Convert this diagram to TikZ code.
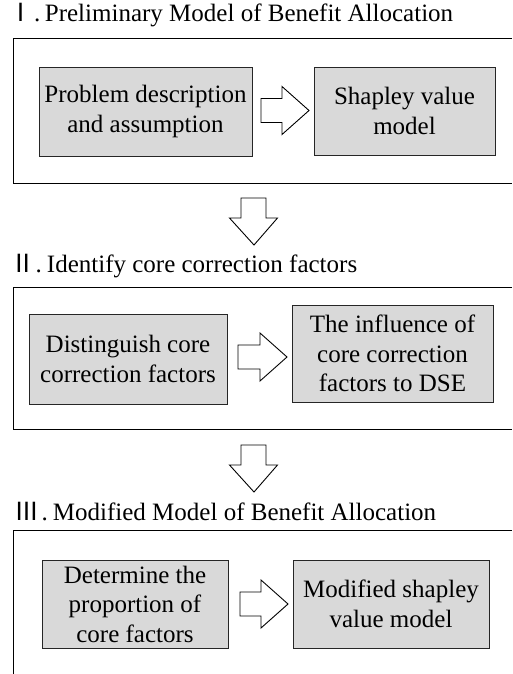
\documentclass[tikz,border=0pt]{standalone}
\usepackage{fontspec}
\setmainfont{Liberation Serif}
\newfontfamily\cjk{Noto Sans CJK SC}
\usetikzlibrary{calc}
\definecolor{boxgray}{HTML}{D9D9D9}
\tikzset{
  inner/.style={draw=black!85, fill=boxgray, line width=0.9pt, align=center, inner sep=0pt, font=\fontsize{25}{29.5}\selectfont},
  outer/.style={draw=black, line width=1pt},
  title/.style={anchor=base west, inner sep=0pt, font=\fontsize{25}{29}\selectfont},
  blk/.style={draw=black, fill=white, line width=0.9pt, line join=miter}
}
\newcommand{\numr}[2]{\makebox[#1][c]{\cjk\fontsize{25}{29}\selectfont #2}}
\newcommand{\rarr}[2]{\draw[blk] let \p1=(#1), \p2=(#2) in
  (\x1,\y1+12pt) -- (\x2-27pt,\y1+12pt) -- (\x2-27pt,\y1+24pt) -- (\x2,\y1)
  -- (\x2-27pt,\y1-24pt) -- (\x2-27pt,\y1-12pt) -- (\x1,\y1-12pt) -- cycle;}
\newcommand{\darr}[2]{\draw[blk] let \p1=(#1), \p2=(#2) in
  (\x1-12.5pt,\y1) -- (\x1+12.5pt,\y1) -- (\x1+12.5pt,\y2+27pt) -- (\x1+24pt,\y2+27pt)
  -- (\x2,\y2) -- (\x1-24pt,\y2+27pt) -- (\x1-12.5pt,\y2+27pt) -- cycle;}
\begin{document}
\begin{tikzpicture}[x=1pt,y=-1pt]
\useasboundingbox (0,0) rectangle (512,674);
\fill[white] (0,0) rectangle (512,674);

% titles
\node[title] (t1) at (8,22) {\numr{26pt}{Ⅰ}.\hspace{4.5pt}Preliminary Model of Benefit Allocation};
\node[title] (t2) at (10.5,272) {\numr{25pt}{Ⅱ}.\hspace{5pt}Identify core correction factors};
\node[title] (t3) at (13,520) {\numr{28.5pt}{Ⅲ}.\hspace{5pt}Modified Model of Benefit Allocation};

% outer frames
\draw[outer] (512,39) -- (13.5,39) -- (13.5,183) -- (512,183);
\draw[outer] (512,287) -- (13.5,287) -- (13.5,429) -- (512,429);
\draw[outer] (512,530) -- (13.5,530) -- (13.5,674);

% section I
\node[inner, minimum width=213pt, minimum height=89pt] (p1a) at (145.5,111.5) {Problem description\\and assumption};
\node[inner, minimum width=181pt, minimum height=88pt] (p1b) at (404.5,111) {Shapley value\\model};
\coordinate (a1s) at (261,110.5);
\coordinate (a1e) at (309,110.5);
\rarr{a1s}{a1e}

% down arrow 1
\coordinate (d1s) at (253.5,198);
\coordinate (d1e) at (254,245);
\darr{d1s}{d1e}

% section II
\node[inner, minimum width=198pt, minimum height=90pt] (p2a) at (128,359) {Distinguish core\\correction factors};
\node[inner, minimum width=201pt, minimum height=97pt] (p2b) at (392.5,353.5) {The influence of\\core correction\\factors to DSE};
\coordinate (a2s) at (238,357);
\coordinate (a2e) at (287,357);
\rarr{a2s}{a2e}

% down arrow 2
\coordinate (d2s) at (253.5,445);
\coordinate (d2e) at (254,492);
\darr{d2s}{d2e}

% section III
\node[inner, minimum width=186pt, minimum height=88pt] (p3a) at (135,604) {Determine the\\proportion of\\core factors};
\node[inner, minimum width=196pt, minimum height=88pt] (p3b) at (391,604) {Modified shapley\\value model};
\coordinate (a3s) at (240,604);
\coordinate (a3e) at (288,604);
\rarr{a3s}{a3e}
\end{tikzpicture}
\end{document}
